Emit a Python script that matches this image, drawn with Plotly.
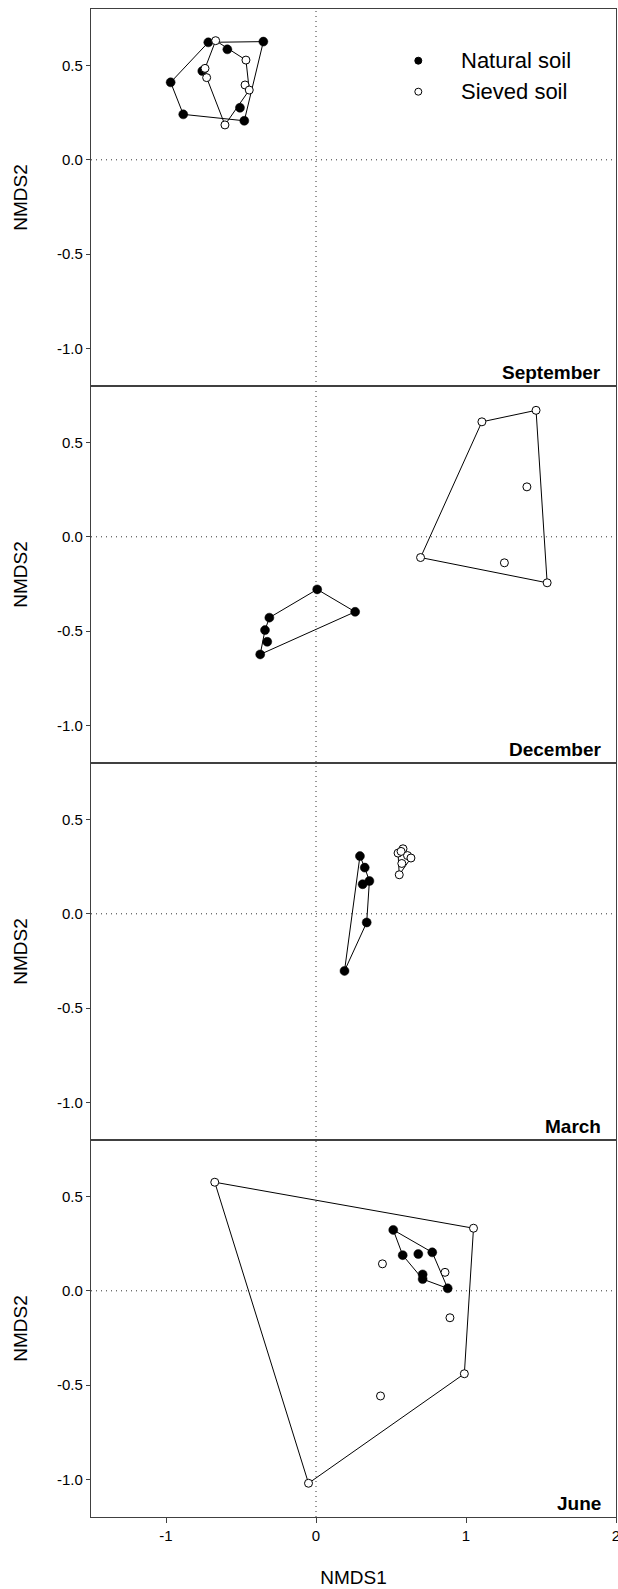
import plotly.graph_objects as go
from plotly.subplots import make_subplots

# NMDS scores per sampling month (natural vs sieved soil)
months = ["September", "December", "March", "June"]

sep_nat_x = [-0.718, -0.351, -0.591, -0.969, -0.885, -0.478, -0.507, -0.758]
sep_nat_y = [0.623, 0.627, 0.586, 0.411, 0.241, 0.207, 0.276, 0.471]
sep_sie_x = [-0.669, -0.467, -0.740, -0.729, -0.473, -0.445, -0.607]
sep_sie_y = [0.632, 0.529, 0.485, 0.436, 0.397, 0.370, 0.185]

dec_nat_x = [0.008, 0.261, -0.311, -0.340, -0.325, -0.372]
dec_nat_y = [-0.279, -0.398, -0.429, -0.495, -0.557, -0.624]
dec_sie_x = [1.106, 1.467, 1.406, 0.697, 1.256, 1.541]
dec_sie_y = [0.610, 0.671, 0.265, -0.110, -0.138, -0.244]

mar_nat_x = [0.293, 0.325, 0.311, 0.356, 0.338, 0.190]
mar_nat_y = [0.306, 0.245, 0.157, 0.174, -0.046, -0.303]
mar_sie_x = [0.547, 0.580, 0.567, 0.610, 0.633, 0.572, 0.555]
mar_sie_y = [0.322, 0.345, 0.331, 0.309, 0.296, 0.267, 0.207]

jun_nat_x = [0.515, 0.578, 0.682, 0.775, 0.711, 0.711, 0.878]
jun_nat_y = [0.323, 0.189, 0.195, 0.204, 0.087, 0.062, 0.013]
jun_sie_x = [-0.675, 1.050, 0.443, 0.860, 0.893, 0.989, 0.430, -0.050]
jun_sie_y = [0.576, 0.332, 0.143, 0.098, -0.143, -0.440, -0.558, -1.021]

series_names = ["Natural soil", "Sieved soil"]

x_tickvals = [-1, 0, 1, 2]
x_ticktext = ["-1", "0", "1", "2"]
y_tickvals = [-1.0, -0.5, 0.0, 0.5]
y_ticktext = ["-1.0", "-0.5", "0.0", "0.5"]

panels = [
    (sep_nat_x, sep_nat_y, sep_sie_x, sep_sie_y),
    (dec_nat_x, dec_nat_y, dec_sie_x, dec_sie_y),
    (mar_nat_x, mar_nat_y, mar_sie_x, mar_sie_y),
    (jun_nat_x, jun_nat_y, jun_sie_x, jun_sie_y),
]


def convex_hull(xs, ys):
    """Monotone-chain hull, returned closed for drawing."""
    pts = sorted(set(zip(xs, ys)))

    def cross(o, a, b):
        return (a[0] - o[0]) * (b[1] - o[1]) - (a[1] - o[1]) * (b[0] - o[0])

    lower, upper = [], []
    for p in pts:
        while len(lower) >= 2 and cross(lower[-2], lower[-1], p) <= 0:
            lower.pop()
        lower.append(p)
    for p in reversed(pts):
        while len(upper) >= 2 and cross(upper[-2], upper[-1], p) <= 0:
            upper.pop()
        upper.append(p)
    hull = lower[:-1] + upper[:-1]
    hull.append(hull[0])
    return [p[0] for p in hull], [p[1] for p in hull]


fig = make_subplots(rows=4, cols=1, shared_xaxes=True, vertical_spacing=0)

AXIS_COL = "#404040"
FONT = "Liberation Sans, Arial, sans-serif"

for i, (nx, ny, sx, sy) in enumerate(panels):
    row = i + 1
    hx, hy = convex_hull(nx, ny)
    fig.add_trace(go.Scatter(x=hx, y=hy, mode="lines",
                             line=dict(color="black", width=1),
                             hoverinfo="skip", showlegend=False), row=row, col=1)
    fig.add_trace(go.Scatter(x=nx, y=ny, mode="markers", name=series_names[0],
                             marker=dict(size=9, color="black",
                                         line=dict(color="black", width=0.5)),
                             showlegend=False), row=row, col=1)
    hx, hy = convex_hull(sx, sy)
    fig.add_trace(go.Scatter(x=hx, y=hy, mode="lines",
                             line=dict(color="black", width=1),
                             hoverinfo="skip", showlegend=False), row=row, col=1)
    fig.add_trace(go.Scatter(x=sx, y=sy, mode="markers", name=series_names[1],
                             marker=dict(size=8, color="white",
                                         line=dict(color="black", width=1)),
                             showlegend=False), row=row, col=1)

    yref = "y" if row == 1 else f"y{row}"
    # dotted zero line across the panel
    fig.add_shape(type="line", xref="paper", yref=yref, x0=0, x1=1, y0=0, y1=0,
                  line=dict(color="#333333", width=1, dash="1px,4px"), layer="below")
    # month label
    fig.add_annotation(text=f"<b>{months[i]}</b>", xref="paper",
                       yref=f"{yref} domain", x=1, y=0, xanchor="right",
                       yanchor="middle", xshift=-13, yshift=14, showarrow=False,
                       font=dict(family=FONT, size=19, color="black"))

    fig.update_yaxes(row=row, col=1, range=[-1.2, 0.8], tickvals=y_tickvals,
                     ticktext=y_ticktext, ticks="outside", ticklen=4,
                     tickcolor=AXIS_COL, showline=True, linecolor=AXIS_COL,
                     linewidth=1.3, mirror=True, showgrid=False, zeroline=False,
                     automargin=False,
                     tickfont=dict(family=FONT, size=15, color="black"),
                     title=dict(text="NMDS2", standoff=24,
                                font=dict(family=FONT, size=19, color="black")))
    fig.update_xaxes(row=row, col=1, range=[-1.5, 2], showline=True,
                     linecolor=AXIS_COL, linewidth=1.3, mirror=True,
                     showgrid=False, zeroline=False, automargin=False,
                     ticks="outside" if row == 4 else "",
                     ticklen=5, tickcolor=AXIS_COL,
                     tickvals=x_tickvals, ticktext=x_ticktext,
                     showticklabels=(row == 4), ticklabeloverflow="allow",
                     tickfont=dict(family=FONT, size=15, color="black"))

fig.update_xaxes(row=4, col=1,
                 title=dict(text="NMDS1", standoff=27,
                            font=dict(family=FONT, size=19, color="black")))

# dotted vertical line at NMDS1 = 0 running through all panels
fig.add_shape(type="line", xref="x", yref="paper", x0=0, x1=0, y0=0, y1=1,
              line=dict(color="#333333", width=1, dash="1px,4px"), layer="below")

# legend in the top panel
legend_rows = [(series_names[0], "black"), (series_names[1], "white")]
for k, (label, fill) in enumerate(legend_rows):
    ypix = 60.7 + 31 * k
    ypaper = (1517 - ypix) / 1508
    xpaper = (418.3 - 91) / 525
    fig.add_shape(type="circle", xref="paper", yref="paper",
                  xsizemode="pixel", ysizemode="pixel",
                  xanchor=xpaper, yanchor=ypaper,
                  x0=-3.5, x1=3.5, y0=-3.5, y1=3.5,
                  fillcolor=fill, line=dict(color="black", width=1))
    fig.add_annotation(text=label, xref="paper", yref="paper",
                       x=(459 - 91) / 525, y=ypaper, xanchor="left",
                       yanchor="middle", showarrow=False,
                       font=dict(family=FONT, size=22, color="black"))

fig.update_layout(
    width=618, height=1589,
    margin=dict(l=91, r=2, t=9, b=72),
    plot_bgcolor="white", paper_bgcolor="white",
    showlegend=False,
)

for k in range(4):
    lo = 1 - (k + 1) / 4
    hi = 1 - k / 4
    fig.layout[f"yaxis{'' if k == 0 else k + 1}"].domain = [lo, hi]

fig.write_html("out.html")
